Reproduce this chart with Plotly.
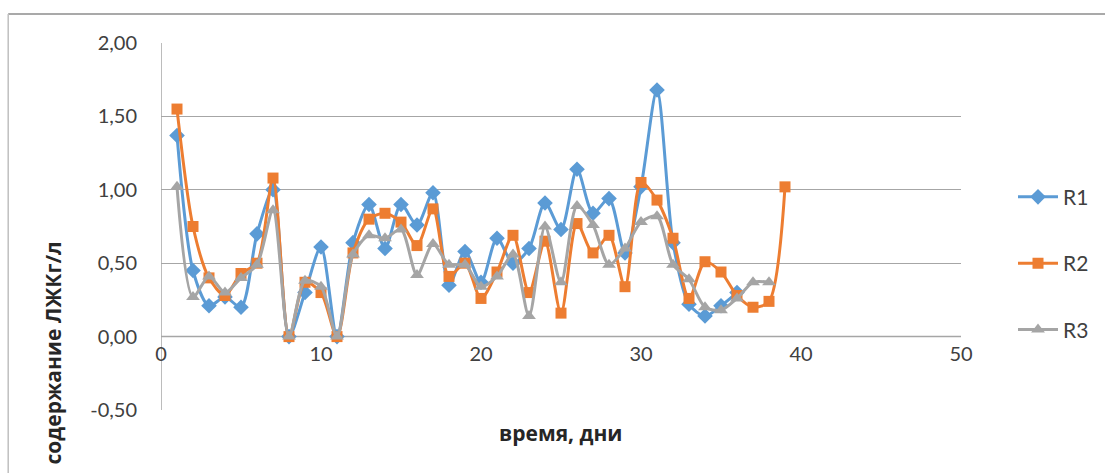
import plotly.graph_objects as go

days_r1 = list(range(1, 37))
r1 = [1.37, 0.45, 0.21, 0.27, 0.20, 0.70, 1.00, 0.00, 0.30, 0.61, 0.00, 0.64,
      0.90, 0.60, 0.90, 0.76, 0.98, 0.35, 0.58, 0.37, 0.67, 0.50, 0.60, 0.91,
      0.73, 1.14, 0.84, 0.94, 0.57, 1.02, 1.68, 0.64, 0.22, 0.14, 0.21, 0.30]

days_r2 = list(range(1, 40))
r2 = [1.55, 0.75, 0.40, 0.28, 0.43, 0.50, 1.08, 0.00, 0.37, 0.30, 0.00, 0.57,
      0.80, 0.84, 0.78, 0.62, 0.87, 0.41, 0.50, 0.26, 0.44, 0.69, 0.30, 0.65,
      0.16, 0.77, 0.57, 0.69, 0.34, 1.05, 0.93, 0.67, 0.26, 0.51, 0.44, 0.28,
      0.20, 0.24, 1.02]

days_r3 = list(range(1, 39))
r3 = [1.02, 0.27, 0.41, 0.30, 0.40, 0.49, 0.86, 0.00, 0.38, 0.34, 0.00, 0.56,
      0.69, 0.67, 0.73, 0.42, 0.63, 0.49, 0.49, 0.34, 0.41, 0.56, 0.14, 0.75,
      0.37, 0.89, 0.76, 0.49, 0.60, 0.78, 0.82, 0.49, 0.39, 0.20, 0.18, 0.26,
      0.37, 0.37]

x_ticks = [0, 10, 20, 30, 40, 50]
y_ticks = [-0.5, 0.0, 0.5, 1.0, 1.5, 2.0]
y_tick_text = ["-0,50", "0,00", "0,50", "1,00", "1,50", "2,00"]

FONT = "Lato, 'Open Sans', sans-serif"
TITLE_FONT = "'Open Sans', 'Noto Sans', sans-serif"
GRID = "#A6A6A6"

fig = go.Figure()
series = [
    ("R1", days_r1, r1, "#5B9BD5", "diamond", 12),
    ("R2", days_r2, r2, "#ED7D31", "square", 11),
    ("R3", days_r3, r3, "#A5A5A5", "triangle-up", 12),
]
for name, xs, ys, col, sym, sz in series:
    fig.add_trace(go.Scatter(
        x=xs, y=ys, name=name, legendgroup=name, mode="lines+markers",
        line=dict(color=col, width=3, shape="spline", smoothing=0.8),
        marker=dict(color=col, symbol=sym, size=sz),
    ))

fig.update_layout(
    width=1114, height=473,
    margin=dict(l=161, r=153, t=43, b=63),
    paper_bgcolor="white", plot_bgcolor="white",
    font=dict(family=FONT, size=20, color="#404040"),
    showlegend=True,
    legend=dict(x=1.065, y=0.40, xanchor="left", yanchor="middle",
                tracegroupgap=36, font=dict(size=21, color="#404040"),
                itemwidth=40, bgcolor="rgba(0,0,0,0)"),
    xaxis=dict(range=[0, 50], tickvals=x_ticks, showgrid=False, zeroline=False,
               showline=False, anchor="free", position=0.2, ticks="",
               ticklabelstandoff=3, tickfont=dict(size=20, color="#404040")),
    yaxis=dict(range=[-0.5, 2.0], tickvals=y_ticks, ticktext=y_tick_text,
               showgrid=True, gridcolor=GRID, gridwidth=1, zeroline=False,
               showline=False, ticks="", ticklabelstandoff=23,
               tickfont=dict(size=20, color="#404040")),
    shapes=[
        dict(type="line", xref="x", yref="y", x0=0, x1=50, y0=0, y1=0,
             line=dict(color=GRID, width=1.5), layer="below"),
        dict(type="line", xref="x", yref="y", x0=0, x1=0, y0=-0.5, y1=2.0,
             line=dict(color=GRID, width=1.5), layer="below"),
        dict(type="line", xref="paper", yref="paper", x0=-0.191, x1=1.18,
             y0=1.079, y1=1.079, line=dict(color="#8C8C8C", width=1.5)),
        dict(type="line", xref="paper", yref="paper", x0=-0.191, x1=-0.191,
             y0=1.079, y1=-0.2, line=dict(color="#BFBFBF", width=1.5)),
    ],
    annotations=[
        dict(text="<b>время, дни</b>", xref="paper", yref="paper", x=0.5,
             y=(410 - 433) / 367, xanchor="center", yanchor="middle",
             showarrow=False, font=dict(family=TITLE_FONT, size=21, color="#262626")),
        dict(text="<b>содержание ЛЖКг/л</b>", xref="paper", yref="paper",
             x=(52 - 161) / 800, y=(410 - 466) / 367, xanchor="center",
             yanchor="bottom", textangle=-90, showarrow=False,
             font=dict(family=TITLE_FONT, size=21, color="#262626")),
    ],
)

fig.write_html("out.html")
